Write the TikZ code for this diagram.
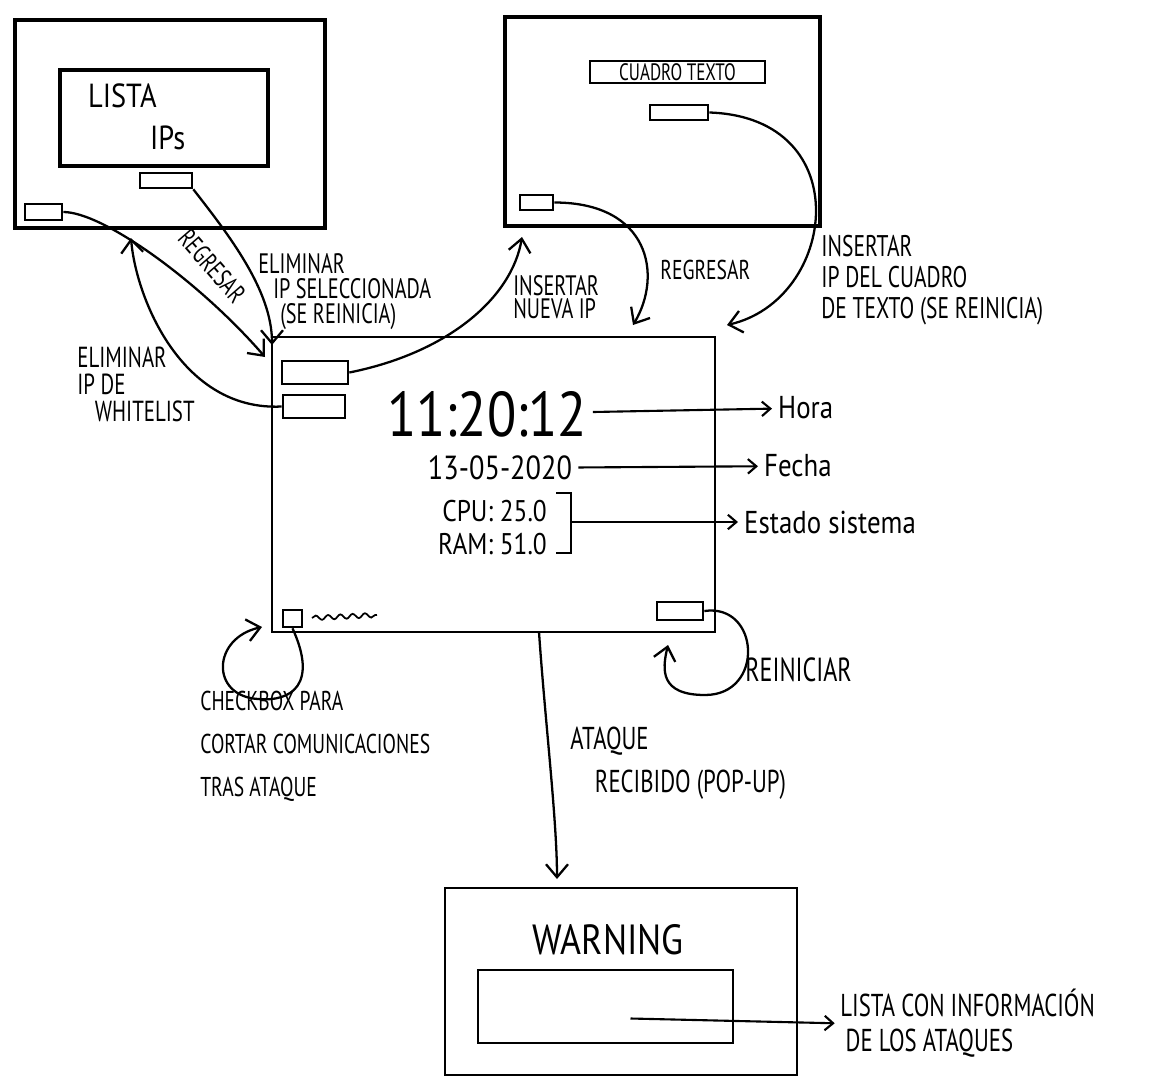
\documentclass[tikz,border=0pt]{standalone}
\usepackage{fontspec}
\setmainfont{PT Sans}[FakeStretch=0.85]
\newfontfamily\narrowfont{PT Sans}[FakeStretch=0.72]
\usetikzlibrary{arrows.meta,fit,decorations.pathmorphing}

\begin{document}
\begin{tikzpicture}[x=0.02cm,y=-0.02cm,
  win/.style={draw, line width=1.9pt, inner sep=0pt},
  pane/.style={draw, line width=1.4pt, inner sep=0pt},
  btn/.style={draw, line width=1.5pt, inner sep=0pt},
  note/.style 2 args={align=left, anchor=north west, inner sep=0pt, font=\narrowfont\fontsize{#1}{#2}\selectfont},
  link/.style={line width=1.3pt, -{Straight Barb[length=2.6mm,width=4.4mm]}},
  tip/.style={line width=1.2pt, -{Straight Barb[length=1.7mm,width=2.9mm]}}]
  \useasboundingbox (0,0) rectangle (1157,1082);

  % lista de IPs
  \node[win, fit={(15,20) (325,228)}] (w1) {};
  \node[win, fit={(60,70) (268,166)}] (w1list) {};
  \node[anchor=west, font=\fontsize{19}{19}\selectfont] (w1lista) at (82,96) {LISTA};
  \node[anchor=west, font=\fontsize{19}{19}\selectfont] (w1ips) at (144,138) {IPs};
  \node[btn, fit={(140,173) (192,188)}] (w1del) {};
  \node[btn, fit={(25,204) (62,220)}] (w1back) {};

  % cuadro de texto
  \node[win, fit={(505,17) (820,226)}] (w2) {};
  \node[btn, fit={(590,61) (765,83)}] (w2txt) {};
  \node[font=\narrowfont\fontsize{13.5}{13.5}\selectfont] (w2lab) at (w2txt) {CUADRO TEXTO};
  \node[btn, fit={(650,105) (708,120)}] (w2ins) {};
  \node[btn, fit={(520,195) (553,210)}] (w2back) {};

  % ventana principal
  \node[pane, fit={(272,337) (715,632)}] (main) {};
  \node[btn, fit={(282,361) (348,384)}] (mainadd) {};
  \node[btn, fit={(283,395) (345,418)}] (maindel) {};
  \node[font=\fontsize{36}{36}\selectfont] (clock) at (487,414) {11:20:12};
  \node[font=\fontsize{19}{19}\selectfont] (date) at (500,468) {13-05-2020};
  \node[anchor=east, font=\fontsize{17}{17}\selectfont] (cpu) at (553,511) {CPU: 25.0};
  \node[anchor=east, font=\fontsize{17}{17}\selectfont] (ram) at (553,544) {RAM: 51.0};
  \draw[line width=1.3pt] (556,493) -- (571,493) -- (571,553) -- (556,553);
  \coordinate (brk) at (571,522);
  \node[btn, fit={(283,610) (302,627)}] (chk) {};
  \draw[line width=1pt, decorate, decoration={snake, amplitude=1.3pt, segment length=7pt}]
    (312,618) -- (377,615);
  \node[btn, fit={(657,602) (703,620)}] (mainreset) {};

  \foreach \x/\y/\name/\lab in {772/408/lhora/Hora, 758/466/lfecha/Fecha, 738/522/lestado/Estado sistema}
    \node[anchor=west, font=\fontsize{18}{18}\selectfont] (\name) at (\x,\y) {\lab};
  \foreach \src/\dst in {clock/lhora, date/lfecha, brk/lestado}
    \draw[tip] (\src) -- (\dst);

  % ventana de aviso
  \node[pane, fit={(445,888) (797,1075)}] (warn) {};
  \node[font=\fontsize{24}{24}\selectfont] (warntitle) at (608,940) {WARNING};
  \node[pane, fit={(478,970) (733,1043)}] (warnlist) {};

  % textos
  \node[rotate=-49, font=\narrowfont\fontsize{15}{15}\selectfont] (lregA) at (212,266) {REGRESAR};
  \node[note={16}{14.2}] (ldel) at (258,253) {ELIMINAR\\\hspace*{8.5pt}IP SELECCIONADA\\\hspace*{12.5pt}(SE REINICIA)};
  \node[note={16.5}{15.3}] (lwhite) at (77,347) {ELIMINAR\\IP DE\\\hspace*{10pt}WHITELIST};
  \node[note={16}{13}] (lnew) at (513,275) {INSERTAR\\NUEVA IP};
  \node[note={15.5}{15}, anchor=west] (lregB) at (660,270) {REGRESAR};
  \node[note={17}{17.6}] (lcopy) at (821,235) {INSERTAR\\IP DEL CUADRO\\DE TEXTO (SE REINICIA)};
  \node[note={15.5}{24.4}] (lchk) at (200,691) {CHECKBOX PARA\\CORTAR COMUNICACIONES\\TRAS ATAQUE};
  \node[note={19}{19}, anchor=west] (lreset) at (745,670) {REINICIAR};
  \node[note={18}{24.4}] (latk) at (570,727) {ATAQUE\\\hspace*{14pt}RECIBIDO (POP-UP)};
  \node[note={18}{19.8}] (linfo) at (840,989) {LISTA CON INFORMACIÓN\\\hspace*{3pt}DE LOS ATAQUES};

  % flechas
  \coordinate (backA) at (265,357);
  \coordinate (delA) at (272,345);
  \coordinate (w1in) at (131,238);
  \coordinate (w2in) at (522,237);
  \coordinate (backB) at (633,325);
  \coordinate (copyin) at (727,325);
  \coordinate (chkin) at (262,627);
  \coordinate (resetin) at (668,645);
  \coordinate (atkout) at (539,632);
  \coordinate (warnin) at (557,879);
  \draw[link] (w1back.east) .. controls +(40,0) and +(-65,-75) .. (backA);
  \draw[link] (w1del.south east) .. controls +(35,45) and +(0,-55) .. (delA);
  \draw[link] (maindel.west) .. controls +(-100,5) and +(5,60) .. (w1in);
  \draw[link] (mainadd.east) .. controls +(100,-20) and +(-10,60) .. (w2in);
  \draw[link] (w2back.east) .. controls +(95,0) and +(30,-50) .. (backB);
  \draw[link] (w2ins.east) .. controls +(150,5) and +(110,-25) .. (copyin);
  \draw[link] (chk.south) .. controls (318,684) and (292,702) .. (258,699)
    .. controls (210,696) and (212,638) .. (chkin);
  \draw[link] (mainreset.east) .. controls (760,603) and (765,695) .. (705,695)
    .. controls (660,695) and (662,670) .. (resetin);
  \draw[link] (atkout) .. controls (545,720) and (557,820) .. (warnin);
  \draw[tip, shorten >=3pt] ([shift={(25,12)}]warnlist.center) -- (linfo.west);
\end{tikzpicture}
\end{document}
